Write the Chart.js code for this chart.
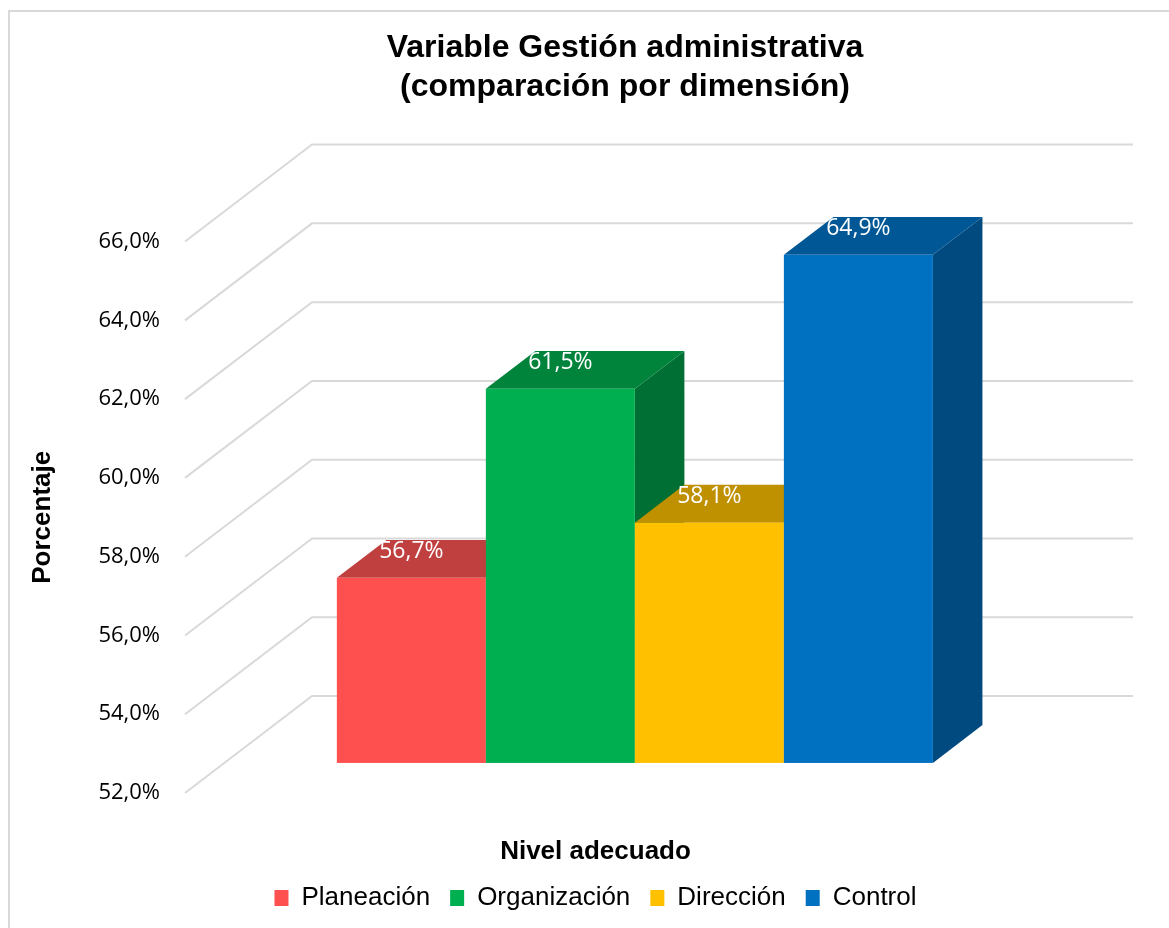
<!doctype html>
<html lang="es">
<head>
  <meta charset="utf-8">
  <title>Variable Gestión administrativa</title>
  <script src="https://cdn.jsdelivr.net/npm/chart.js@4.4.0/dist/chart.umd.min.js"></script>
  <style>
    body { margin: 0; overflow: hidden; background: #fff; }
  </style>
</head>
<body>
<canvas id="grafico" width="1250" height="928"></canvas>

<script>
// datos
var categorias = ['Nivel adecuado'];
var dimensiones = ['Planeación', 'Organización', 'Dirección', 'Control'];
var porcentajes = [56.7, 61.5, 58.1, 64.9];
var ejeMin = 52, ejeMax = 66, ejePaso = 2;

// colores de cada cara (frente, tapa, lado)
var colorFrente = ['#FF5050', '#00B050', '#FFC000', '#0070C0'];
var colorTapa   = ['#C04040', '#00843C', '#BF9000', '#005796'];
var colorLado   = ['#A33636', '#006F33', '#A37A00', '#004A80'];

// profundidad de la pared del fondo y posicion de las barras dentro de ella
var fondoX = 127, fondoY = 97;
var despl = 0.31, prof = 0.39;

function pct(v) {
  return v.toFixed(1).replace('.', ',') + '%';
}

var barras3d = {
  id: 'barras3d',
  beforeDraw: function(chart) {
    var ctx = chart.ctx;
    ctx.save();
    ctx.strokeStyle = '#d9d9d9';
    ctx.lineWidth = 2;
    ctx.strokeRect(9, 11, 1400, 1000);
    ctx.restore();
  },
  beforeDatasetsDraw: function(chart) {
    var ctx = chart.ctx, a = chart.chartArea, y = chart.scales.y;
    ctx.save();
    // pared del fondo con lineas de division
    ctx.strokeStyle = '#d9d9d9';
    ctx.lineWidth = 2;
    y.ticks.forEach(function(t) {
      var py = y.getPixelForValue(t.value);
      ctx.beginPath();
      ctx.moveTo(a.left, py);
      ctx.lineTo(a.left + fondoX, py - fondoY);
      ctx.lineTo(a.right + fondoX, py - fondoY);
      ctx.stroke();
    });

    var ox = fondoX * despl, oy = fondoY * despl;
    var bx = fondoX * prof, by = fondoY * prof;
    var cajas = [];
    chart.data.datasets.forEach(function(ds, i) {
      var b = chart.getDatasetMeta(i).data[0];
      var x0 = b.x - b.width / 2 + ox, x1 = x0 + b.width;
      var yt = b.y - oy, yb = b.base - oy;
      // lado
      ctx.fillStyle = colorLado[i];
      ctx.beginPath();
      ctx.moveTo(x1, yt); ctx.lineTo(x1 + bx, yt - by);
      ctx.lineTo(x1 + bx, yb - by); ctx.lineTo(x1, yb);
      ctx.closePath(); ctx.fill();
      // tapa
      ctx.fillStyle = colorTapa[i];
      ctx.beginPath();
      ctx.moveTo(x0, yt); ctx.lineTo(x0 + bx, yt - by);
      ctx.lineTo(x1 + bx, yt - by); ctx.lineTo(x1, yt);
      ctx.closePath(); ctx.fill();
      // frente
      ctx.fillStyle = colorFrente[i];
      ctx.fillRect(x0, yt, x1 - x0, yb - yt);
      cajas.push({x: (x0 + x1) / 2, y: yt - 26, v: ds.data[0]});
    });

    // etiquetas de datos
    ctx.fillStyle = '#ffffff';
    ctx.font = '23px "Open Sans"';
    ctx.textAlign = 'center';
    ctx.textBaseline = 'middle';
    cajas.forEach(function(c) {
      ctx.fillText(pct(c.v), c.x, c.y);
    });
    ctx.restore();
    return false;
  }
};

var datasets = dimensiones.map(function(nombre, i) {
  return {
    label: nombre,
    data: [porcentajes[i]],
    base: ejeMin,
    backgroundColor: colorFrente[i],
    borderWidth: 0,
    yAxisID: 'y'
  };
});

var ctx = document.getElementById('grafico').getContext('2d');
var grafico = new Chart(ctx, {
  type: 'bar',
  data: { labels: categorias, datasets: datasets },
  plugins: [barras3d],
  options: {
    responsive: false,
    devicePixelRatio: 1,
    animation: false,
    categoryPercentage: 0.726,
    barPercentage: 1,
    layout: { padding: { top: 0, left: 0, right: 0, bottom: 7 } },
    plugins: {
      tooltip: { enabled: false },
      title: {
        display: true,
        text: ['Variable Gestión administrativa', '(comparación por dimensión)'],
        color: '#000',
        font: { family: '"Liberation Sans", Arial, sans-serif', size: 32, weight: 'bold', lineHeight: 1.22 },
        padding: { top: 28.5, bottom: 135 }
      },
      legend: {
        position: 'bottom',
        fullSize: false,
        labels: {
          boxWidth: 14,
          boxHeight: 16,
          padding: 20,
          color: '#000',
          font: { family: '"Liberation Sans", Arial, sans-serif', size: 26 }
        }
      }
    },
    scales: {
      x: {
        grid: { display: false, drawTicks: false },
        border: { display: false },
        ticks: { display: false },
        title: {
          display: true,
          text: categorias[0],
          color: '#000',
          font: { family: '"Liberation Sans", Arial, sans-serif', size: 26, weight: 'bold', lineHeight: 1.0 },
          padding: { top: 46, bottom: 0 }
        }
      },
      y: {
        min: ejeMin,
        max: ejeMax,
        grid: { display: false, drawTicks: false },
        border: { display: false },
        ticks: {
          stepSize: ejePaso,
          padding: 25,
          color: '#000',
          font: { family: '"Open Sans", sans-serif', size: 22 },
          callback: function(v) { return pct(v); }
        },
        title: {
          display: true,
          text: 'Porcentaje',
          color: '#000',
          font: { family: '"Liberation Sans", Arial, sans-serif', size: 26, weight: 'bold' },
          padding: { top: 27.4, bottom: 0 }
        },
        afterFit: function(s) { s.width = 185; }
      },
      yDer: {
        type: 'linear',
        position: 'right',
        grid: { display: false, drawTicks: false },
        border: { display: false },
        ticks: { display: false },
        afterFit: function(s) { s.width = 244; }
      }
    }
  }
});
</script>
</body>
</html>
